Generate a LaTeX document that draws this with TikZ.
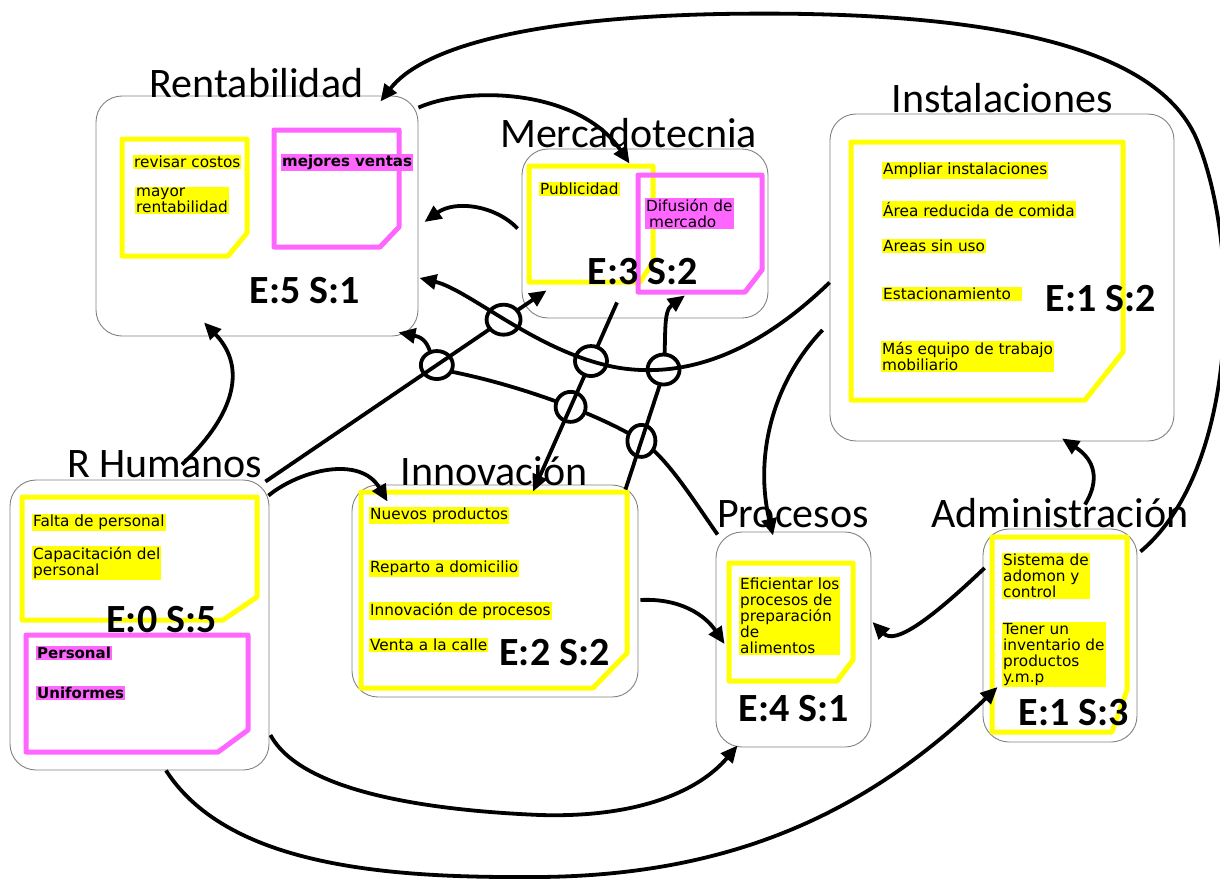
\documentclass[tikz,border=0pt]{standalone}
\usepackage{fontspec}
\setmainfont{Carlito}
\newfontfamily\notefont{DejaVu Sans}
\usetikzlibrary{arrows.meta,calc,intersections}
\definecolor{hly}{RGB}{255,255,0}
\definecolor{hlp}{RGB}{255,102,255}
\definecolor{boxgray}{RGB}{130,130,130}
\begin{document}
\begin{tikzpicture}[x=1pt,y=-1pt,
  box/.style={draw=boxgray, line width=0.9pt, fill=white, rounded corners=26pt, inner sep=0pt},
  ttl/.style={anchor=base, inner sep=0pt, font=\fontsize{42}{50}\selectfont},
  es/.style={anchor=base, inner sep=0pt, font=\fontsize{40}{48}\selectfont\bfseries},
  noteY/.style={draw=hly, line width=5pt, line join=round},
  noteP/.style={draw=hlp, line width=5pt, line join=round},
  txtY/.style={anchor=north west, fill=hly, inner sep=1pt, align=left, font=\notefont\fontsize{15.3}{16}\selectfont},
  txtP/.style={txtY, fill=hlp},
  txtPB/.style={txtY, fill=hlp, font=\notefont\bfseries\fontsize{15}{16}\selectfont},
  conn/.style={line width=3.8pt, -{Triangle[length=17pt,width=15pt]}},
  hop/.style={draw=black, fill=white, line width=3.8pt}
]
\useasboundingbox (0,0) rectangle (1220,878);

% ---------- boxes ----------
\node[box, minimum width=322pt, minimum height=240pt] (rent) at (257,216) {};
\node[box, minimum width=246pt, minimum height=169pt] (merc) at (645,233.5) {};
\node[box, minimum width=344pt, minimum height=327pt] (inst) at (1002,277.5) {};
\node[box, minimum width=259pt, minimum height=290pt] (rh) at (139.5,625) {};
\node[box, minimum width=286pt, minimum height=212pt] (inno) at (495,591) {};
\node[box, minimum width=155pt, minimum height=215pt] (proc) at (793.5,639.5) {};
\node[box, minimum width=154pt, minimum height=213pt] (adm) at (1060,635.5) {};

% ---------- titles ----------
\node[ttl] (trent) at (256.5,97) {Rentabilidad};
\node[ttl] (tmerc) at (628.5,147) {Mercadotecnia};
\node[ttl] (tinst) at (1002,112) {Instalaciones};
\node[ttl] (trh) at (164.5,477) {R Humanos};
\node[ttl] (tinno) at (494,485) {Innovación};
\node[ttl] (tproc) at (793,527) {Procesos};
\node[ttl] (tadm) at (1060,527) {Administración};

% ---------- notes ----------
\draw[noteY] (122,139) -- (247,139) -- (247,233) -- (228,256) -- (122,256) -- cycle;
\draw[noteP] (274,130) -- (399,130) -- (399,227) -- (380,247) -- (274,247) -- cycle;
\draw[noteY] (529,166) -- (653,166) -- (653,262) -- (640,282) -- (529,282) -- cycle;
\draw[noteP] (638,175) -- (762,175) -- (762,270) -- (745,292) -- (638,292) -- cycle;
\draw[noteY] (851,142) -- (1123,142) -- (1123,352) -- (1085,400) -- (851,400) -- cycle;
\draw[noteY] (22,497) -- (257,497) -- (257,597) -- (223,620) -- (22,620) -- cycle;
\draw[noteP] (26,635) -- (248,635) -- (248,730) -- (218,752) -- (26,752) -- cycle;
\draw[noteY] (361,492) -- (627,492) -- (627,653) -- (593,688) -- (361,688) -- cycle;
\draw[noteY] (729,563) -- (853,563) -- (853,660) -- (837,681) -- (729,681) -- cycle;
\draw[noteY] (992,537) -- (1127,537) -- (1127,690) -- (1112,732) -- (992,732) -- cycle;

% ---------- note texts ----------
\node[txtY] (n1) at (133,155) {revisar costos};
\node[txtY] (n2) at (135,187) {mayor\\rentabilidad};
\node[txtPB] (n3) at (281,154) {mejores ventas};
\node[txtY] (n4) at (539,182) {Publicidad};
\node[txtP] (n5) at (645,198) {Difusión de\\\hspace*{3pt}mercado};
\node[txtY] (n6) at (882,162) {Ampliar instalaciones};
\node[txtY] (n7) at (882,201) {Área reducida de comida};
\node[txtY] (n8) at (882,239) {Areas sin uso};
\node[txtY] (n9) at (882,287) {Estacionamiento\hspace{10pt}};
\node[txtY] (n10) at (881,341) {Más equipo de trabajo\\mobiliario};
\node[txtY] (n11) at (32,514) {Falta de personal};
\node[txtY] (n12) at (32,546) {Capacitación del\\personal};
\node[txtPB] (n13) at (36,646) {Personal};
\node[txtPB] (n14) at (36,686) {Uniformes};
\node[txtY] (n15) at (369,507) {Nuevos productos};
\node[txtY] (n16) at (369,560) {Reparto a domicilio};
\node[txtY] (n17) at (369,602) {Innovación de procesos};
\node[txtY] (n18) at (369,638) {Venta a la calle};
\node[txtY] (n19) at (739,577) {Eficientar los\\procesos de\\preparación\\de\\alimentos};
\node[txtY] (n20) at (1002,553) {Sistema de\\adomon y\\control};
\node[txtY] (n21) at (1002,622) {Tener un\\inventario de\\productos\\y.m.p};

% ---------- E/S labels ----------
\node[es] (erent) at (305,303) {E:5 S:1};
\node[es] (emerc) at (643,284) {E:3 S:2};
\node[es] (einst) at (1101,311) {E:1 S:2};
\node[es] (erh) at (161.5,632) {E:0 S:5};
\node[es] (einno) at (554.5,665) {E:2 S:2};
\node[es] (eproc) at (794,721) {E:4 S:1};
\node[es] (eadm) at (1074,725) {E:1 S:3};

% ---------- paths with line jumps (geometry) ----------
\path[name path=pd] ($(inst.west)+(0,5)$) .. controls (770,340) and (700,380) .. (620,368)
   .. controls (540,355) and (470,290) .. ($(rent.east)+(1,62)$);
\path[name path=pe] ($(rh.north east)+(-4,2)$) -- ($(merc.south west)+(25,-28)$);
\path[name path=pf] ($(proc.north west)+(2,3)$) .. controls (690,495) and (665,455) .. (640,440)
   .. controls (600,415) and (520,385) .. (448,371) .. controls (425,366) and (436,340) .. ($(rent.south east)+(-20,-4)$);
\path[name path=pg] ($(merc.south)+(-28,-16)$) -- ($(inno.north)+(38,7)$);
\path[name path=ph] ($(inno.north east)+(-13,5)$) -- (663,375) .. controls (667,340) and (662,312) .. ($(merc.south)+(40,-23)$);

\path[name intersections={of=pf and pe, by=xfe}];
\path[name intersections={of=pf and pg, by=xfg}];
\path[name intersections={of=pf and ph, by=xfh}];
\path[name intersections={of=pe and pd, by=xed}];
\path[name intersections={of=pg and pd, by=xgd}];
\path[name intersections={of=ph and pd, by=xhd}];

% Procesos -> Rentabilidad (jumps over e, g, h)
\draw[conn] ($(proc.north west)+(2,3)$) .. controls (690,495) and (665,455) .. (640,440)
   .. controls (600,415) and (520,385) .. (448,371) .. controls (425,366) and (436,340) .. ($(rent.south east)+(-20,-4)$);
\draw[hop] (xfe) ellipse[x radius=16pt, y radius=14pt];
\draw[hop] (xfg) ellipse[x radius=15pt, y radius=15pt];
\draw[hop] (xfh) ellipse[x radius=14pt, y radius=16pt];

% R Humanos -> Mercadotecnia
\draw[conn] ($(rh.north east)+(-4,2)$) -- ($(merc.south west)+(25,-28)$);
% Mercadotecnia -> Innovacion
\draw[conn] ($(merc.south)+(-28,-16)$) -- ($(inno.north)+(38,7)$);
% Innovacion -> Mercadotecnia
\draw[conn] ($(inno.north east)+(-13,5)$) -- (663,375) .. controls (667,340) and (662,312) .. ($(merc.south)+(40,-23)$);
\draw[hop] (xed) ellipse[x radius=17pt, y radius=15pt];
\draw[hop] (xgd) ellipse[x radius=16pt, y radius=15pt];
\draw[hop] (xhd) ellipse[x radius=16pt, y radius=15pt];

% Instalaciones -> Rentabilidad
\draw[conn] ($(inst.west)+(0,5)$) .. controls (770,340) and (700,380) .. (620,368)
   .. controls (540,355) and (470,290) .. ($(rent.east)+(1,62)$);

% ---------- other connectors ----------
% Administracion -> Rentabilidad (big arc)
\draw[conn] ($(adm.north east)+(3,23)$) .. controls (1238,470) and (1242,250) .. (1197,140)
   .. controls (1153,35) and (950,10) .. (720,14)
   .. controls (520,18) and (420,50) .. ($(rent.north east)+(-38,6)$);
% Rentabilidad -> Mercadotecnia
\draw[conn] ($(rent.north east)+(0,12)$) .. controls (470,85) and (580,90) .. ($(merc.north west)+(108,15)$);
% Mercadotecnia -> Rentabilidad
\draw[conn] ($(merc.west)+(-4,-5)$) .. controls (495,205) and (455,200) .. ($(rent.east)+(6,6)$);
% Instalaciones -> Procesos
\draw[conn] ($(inst.west)+(-7,52.5)$) .. controls (770,385) and (755,460) .. ($(proc.north)+(-20.5,4)$);
% Administracion -> Instalaciones
\draw[conn] ($(adm.north)+(25,-24)$) .. controls (1100,480) and (1095,460) .. ($(inst.south)+(60,-3)$);
% Administracion -> Procesos
\draw[conn] ($(adm.west)+(2,-67.5)$) .. controls (930,620) and (895,645) .. ($(proc.east)+(1,-17.5)$);
% R Humanos -> Procesos
\draw[conn] ($(rh.east)+(1,110)$) .. controls (300,790) and (420,810) .. (540,815)
   .. controls (640,818) and (700,790) .. ($(proc.south west)+(22,-2)$);
% R Humanos -> Administracion
\draw[conn] ($(rh.south)+(26.5,0)$) .. controls (230,870) and (400,878) .. (540,877)
   .. controls (750,875) and (880,800) .. ($(adm.west)+(15,51.5)$);
% R Humanos -> Rentabilidad
\draw[conn] ($(rh.north)+(42.5,-15)$) .. controls (230,420) and (250,370) .. ($(rent.south)+(-53,-14)$);
% R Humanos -> Innovacion
\draw[conn] ($(rh.north east)+(-1,16)$) .. controls (300,470) and (360,455) .. ($(inno.north west)+(36,17)$);
% Innovacion -> Procesos
\draw[conn] ($(inno.east)+(2,9)$) .. controls (680,598) and (705,615) .. ($(proc.west)+(9,4.5)$);
\end{tikzpicture}
\end{document}
